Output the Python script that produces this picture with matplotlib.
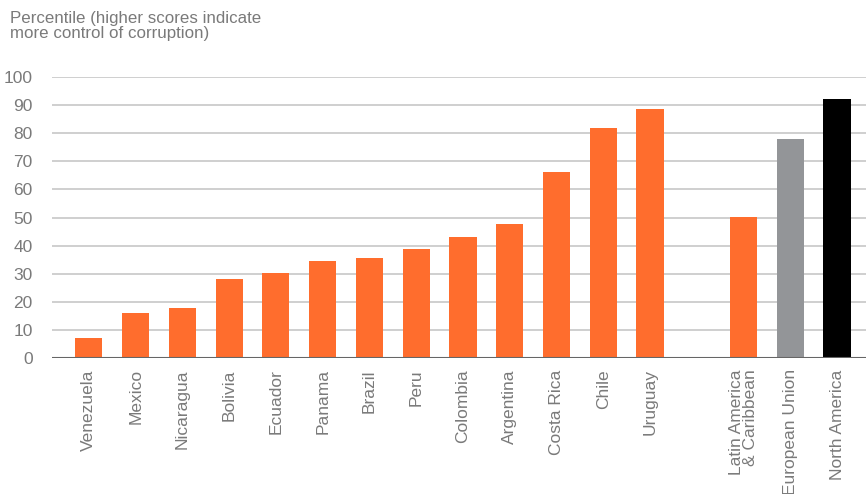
import numpy as np
import matplotlib.pyplot as plt

plt.rcParams['font.family'] = ['Liberation Sans', 'DejaVu Sans']

# Control of corruption percentile ranks
countries = ["Venezuela", "Mexico", "Nicaragua", "Bolivia", "Ecuador", "Panama",
             "Brazil", "Peru", "Colombia", "Argentina", "Costa Rica", "Chile", "Uruguay"]
country_scores = [7, 16, 18, 28, 30.3, 34.6, 35.7, 38.9, 43.1, 47.8, 66.3, 82, 88.5]

regions = ["Latin America\n& Caribbean", "European Union", "North America"]
region_scores = [50.3, 78, 92.2]

orange = "#ff6d2d"
region_colors = [orange, "#939598", "#000000"]
text_gray = "#7a7a7a"

fig = plt.figure(figsize=(8.66, 4.94), dpi=100)
ax = fig.add_axes([0.060, 0.275, 0.940, 0.569])

x_c = np.arange(len(countries))
x_r = np.arange(len(regions)) + len(countries) + 1

ax.bar(x_c, country_scores, width=0.58, color=orange, zorder=3)
ax.bar(x_r, region_scores, width=0.58, color=region_colors, zorder=3)

ax.set_ylim(0, 100)
ax.set_xlim(-0.79, x_r[-1] + 0.62)
ax.set_yticks(range(0, 101, 10))
ax.yaxis.grid(True, color="#cccccc", linewidth=1.3, zorder=0)
ax.axhline(0, color="#666666", linewidth=1.5, zorder=4)

for s in ax.spines.values():
    s.set_visible(False)

ax.tick_params(axis="both", length=0, colors=text_gray, labelsize=12.5)
ax.tick_params(axis="y", pad=14)
ax.tick_params(axis="x", pad=8)
ax.set_xticks(list(x_c) + list(x_r))
ax.set_xticklabels(countries + regions, rotation=90, va="top", ha="center",
                   multialignment="right", linespacing=0.95)

fig.text(0.012, 0.978, "Percentile (higher scores indicate\nmore control of corruption)",
         ha="left", va="top", fontsize=12.2, color=text_gray, linespacing=1.0)

fig.savefig("out.png", dpi=100)
